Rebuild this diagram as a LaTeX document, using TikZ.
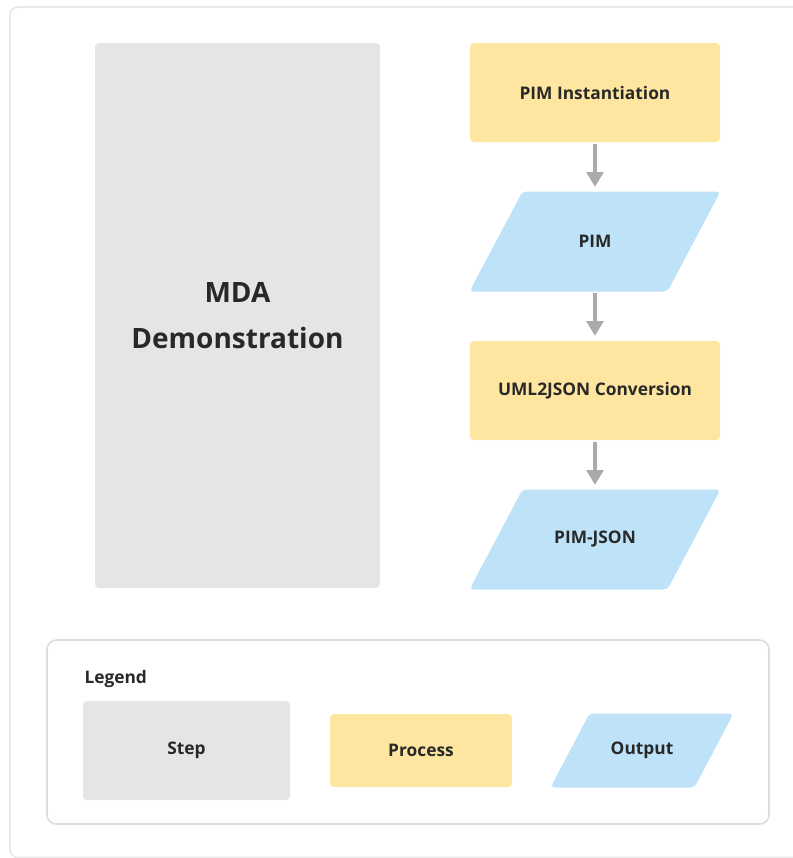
\documentclass[tikz,border=0pt]{standalone}
\usepackage{fontspec}
\setmainfont{Open Sans}
\usetikzlibrary{arrows.meta,backgrounds}

\definecolor{stepgray}{RGB}{229,229,229}
\definecolor{procyellow}{RGB}{254,230,160}
\definecolor{outblue}{RGB}{190,227,249}
\definecolor{framegray}{RGB}{232,232,232}
\definecolor{arrowgray}{RGB}{170,170,170}
\definecolor{textdark}{RGB}{40,40,40}

\tikzset{every picture/.style={line width=0.75pt}}
\tikzset{
  stepbox/.style={fill=stepgray, rounded corners=3pt, text=textdark, font=\bfseries\fontsize{13}{15}\selectfont},
  procbox/.style={fill=procyellow, rounded corners=3pt, text=textdark, font=\bfseries\fontsize{13}{15}\selectfont},
  outbox/.style={text=textdark, font=\bfseries\fontsize{13}{15}\selectfont},
  outfill/.style={fill=outblue, rounded corners=3pt},
  flowarrow/.style={draw=arrowgray, line width=2.5pt, -{Triangle[length=11pt,width=12.5pt]}, shorten <=1pt, shorten >=3.5pt}
}

\begin{document}
\begin{tikzpicture}[x=0.75pt,y=0.75pt,yscale=-1,xscale=1]
\useasboundingbox (0,0) rectangle (793,858);

%Shape: outer frame
\draw [framegray, line width=1.2pt, rounded corners=6pt] (10,7) rectangle (806,857.5);

%Shape: step
\draw (237.5,315.5) node [stepbox, minimum width=213.75pt, minimum height=408.75pt, align=center,
  font=\bfseries\fontsize{21}{35}\selectfont] (mda) {MDA\\Demonstration};

%Shape: processes and outputs
\draw (595,92.5) node [procbox, minimum width=187.5pt, minimum height=74.25pt] (inst) {PIM Instantiation};
\draw (595,241.5) node [outbox, minimum width=187.5pt, minimum height=74.25pt] (pim) {PIM};
\draw (595,390.5) node [procbox, minimum width=187.5pt, minimum height=74.25pt] (conv) {UML2JSON Conversion};
\draw (595,539.5) node [outbox, minimum width=187.5pt, minimum height=74.25pt] (pimjson) {PIM-JSON};

%Straight Lines
\draw [flowarrow] (inst) -- (pim);
\draw [flowarrow] (pim) -- (conv);
\draw [flowarrow] (conv) -- (pimjson);

%Shape: legend
\draw [framegray!90!gray, line width=1.2pt, rounded corners=7pt] (47,640) rectangle (769,824);
% Text Node
\draw (84,683) node [anchor=base west, inner sep=0pt, text=textdark, font=\bfseries\fontsize{13}{15}\selectfont] (legend) {Legend};
\draw (186.5,750.5) node [stepbox, minimum width=155.25pt, minimum height=74.25pt] (keystep) {Step};
\draw (421,750.5) node [procbox, minimum width=136.5pt, minimum height=54.75pt] (keyproc) {Process};
\draw (642,750.5) node [outbox, minimum width=136.5pt, minimum height=54.75pt] (keyout) {Output};

%Shape: parallelograms behind the output nodes
\begin{pgfonlayer}{background}
\fill [outfill] ([xshift=39.75pt]pim.north west) -- (pim.north east) -- ([xshift=-39.75pt]pim.south east) -- (pim.south west) -- cycle;
\fill [outfill] ([xshift=39.75pt]pimjson.north west) -- (pimjson.north east) -- ([xshift=-39.75pt]pimjson.south east) -- (pimjson.south west) -- cycle;
\fill [outfill] ([xshift=29.25pt]keyout.north west) -- (keyout.north east) -- ([xshift=-29.25pt]keyout.south east) -- (keyout.south west) -- cycle;
\end{pgfonlayer}

\end{tikzpicture}
\end{document}
